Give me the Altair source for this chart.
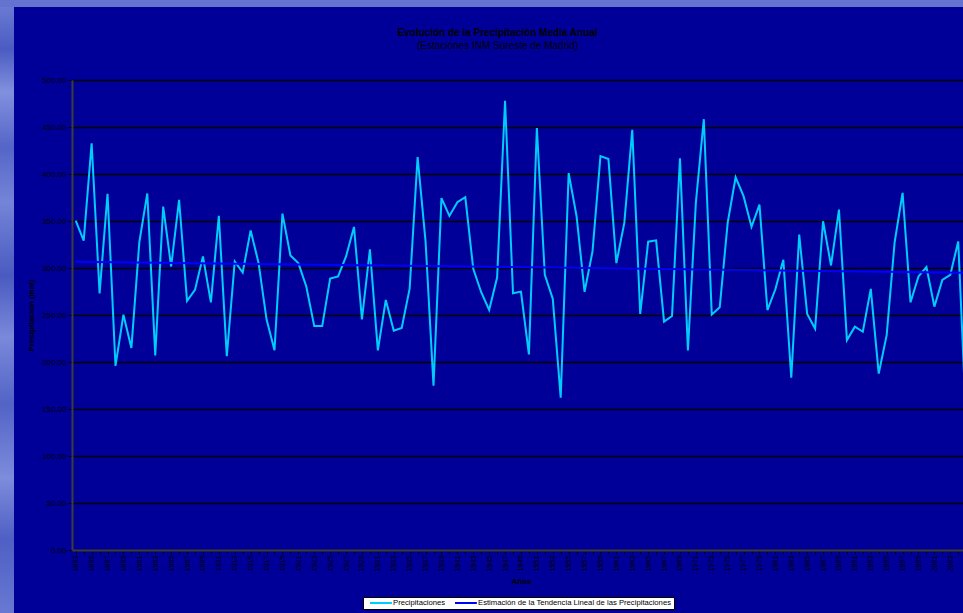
import altair as alt
import pandas as pd

# Annual mean precipitation (mm), INM stations south-east of Madrid
years = list(range(1893, 2006))
precip = [
    350.4, 329.0, 432.7, 273.0, 379.0, 195.8, 250.3, 215.0, 327.6, 379.3,  # 1893-1902
    207.0, 365.4, 301.6, 372.5, 265.0, 276.7, 312.3, 263.5, 355.4, 206.2,  # 1903-1912
    307.0, 295.2, 340.0, 305.2, 245.4, 212.6, 357.9, 313.4, 305.2, 280.3,  # 1913-1922
    238.2, 238.2, 288.8, 291.0, 312.3, 343.7, 245.4, 319.8, 212.3, 266.0,  # 1923-1932
    233.3, 236.1, 278.1, 418.1, 328.3, 174.9, 374.3, 355.4, 370.0, 375.3,  # 1933-1942
    299.1, 274.2, 255.3, 289.9, 477.9, 273.2, 274.9, 208.0, 449.0, 292.7,  # 1943-1952
    267.4, 162.0, 401.0, 355.0, 274.6, 317.7, 419.1, 416.0, 305.2, 348.0,  # 1953-1962
    446.9, 251.1, 328.0, 329.4, 242.9, 248.9, 416.7, 212.3, 369.7, 458.3,  # 1963-1972
    250.4, 258.2, 348.0, 396.4, 376.4, 343.7, 367.5, 255.3, 277.4, 308.8,  # 1973-1982
    183.4, 335.5, 251.1, 235.4, 349.7, 302.7, 362.2, 223.3, 237.5, 232.2,  # 1983-1992
    277.8, 187.7, 228.6, 327.3, 380.0, 263.5, 291.0, 301.0, 258.9, 287.4,  # 1993-2002
    292.7, 328.3, 135.0,                                                   # 2003-2005
]

# Linear trend estimate (end points)
trend_years = [1893, 2005]
trend_values = [306.6, 295.0]

series_names = [
    "Precipitaciones",
    "Estimación de la Tendencia Lineal de las Precipitaciones",
]
series_colors = ["#00CCFF", "#0000FF"]

y_ticks = list(range(0, 501, 50))
x_ticks = list(range(1893, 2005))

obs = pd.DataFrame({"year": years, "value": precip, "serie": series_names[0]})
trend = pd.DataFrame({"year": trend_years, "value": trend_values, "serie": series_names[1]})
df = pd.concat([obs, trend], ignore_index=True)

FONT = "Liberation Sans"
BG = "#000099"
PAD_LEFT, PAD_TOP = 72, 80
PLOT_W, PLOT_H = 891, 470

x_enc = alt.X(
    "year:Q",
    scale=alt.Scale(domain=[1892.53, 2004.6], nice=False, zero=False),
    axis=alt.Axis(
        title="Años",
        values=x_ticks,
        labelExpr="datum.value % 2 == 1 ? '' + datum.value : ''",
        labelAngle=270,
        labelAlign="right",
        labelBaseline="middle",
        labelOverlap=False,
        labelFlush=False,
        labelFontSize=7.3,
        labelPadding=1,
        titlePadding=6,
        titleX=449,
        grid=False,
    ),
)
y_enc = alt.Y(
    "value:Q",
    scale=alt.Scale(domain=[0, 500], nice=False),
    axis=alt.Axis(
        title="Precipitación (mm)",
        values=y_ticks,
        labelExpr="replace(format(datum.value, '.2f'), '.', ',')",
        labelFontSize=8,
        grid=True,
        gridColor="#000000",
        gridWidth=1.4,
        labelPadding=2,
        titlePadding=6,
    ),
)
color_enc = alt.Color(
    "serie:N",
    title=None,
    scale=alt.Scale(domain=series_names, range=series_colors),
    legend=alt.Legend(
        orient="none",
        legendX=363 - PAD_LEFT,
        legendY=597 - PAD_TOP,
        direction="horizontal",
        fillColor="#FFFFFF",
        strokeColor="#000000",
        padding=2,
        columnPadding=4,
        labelFont=FONT,
        labelFontSize=7.7,
        labelColor="#000000",
        labelLimit=400,
        labelOffset=20,
        symbolType="M0.33,0H7.63",
        symbolSize=36,
        symbolStrokeWidth=2,
    ),
)

base = alt.Chart(df)

obs_line = base.transform_filter(alt.datum.serie == series_names[0]).mark_line(
    strokeWidth=2, clip=True
).encode(x=x_enc, y=y_enc, color=color_enc)

trend_line = base.transform_filter(alt.datum.serie == series_names[1]).mark_line(
    strokeWidth=2, clip=True
).encode(x=x_enc, y=y_enc, color=color_enc)

# Slide background edges (left and top strips)
strip_fill = alt.Gradient(
    gradient="linear",
    x1=0, x2=0, y1=0, y2=1,
    stops=[
        alt.GradientStop(offset=0.00, color="#6f7fd6"),
        alt.GradientStop(offset=0.08, color="#4b5bc2"),
        alt.GradientStop(offset=0.15, color="#8190de"),
        alt.GradientStop(offset=0.24, color="#5565c8"),
        alt.GradientStop(offset=0.33, color="#7484d8"),
        alt.GradientStop(offset=0.45, color="#4a5ac0"),
        alt.GradientStop(offset=0.55, color="#7a89da"),
        alt.GradientStop(offset=0.66, color="#5363c6"),
        alt.GradientStop(offset=0.78, color="#7d8cdc"),
        alt.GradientStop(offset=0.88, color="#4f5fc4"),
        alt.GradientStop(offset=1.00, color="#6878d2"),
    ],
)
strip_data = pd.DataFrame({"k": [0]})
left_strip = alt.Chart(strip_data).mark_rect(fill=strip_fill).encode(
    x=alt.value(-PAD_LEFT), x2=alt.value(14 - PAD_LEFT),
    y=alt.value(-PAD_TOP), y2=alt.value(613 - PAD_TOP),
)
top_strip = alt.Chart(strip_data).mark_rect(color="#6373cf").encode(
    x=alt.value(-PAD_LEFT), x2=alt.value(PLOT_W),
    y=alt.value(-PAD_TOP), y2=alt.value(7 - PAD_TOP),
)

chart = alt.layer(left_strip, top_strip, obs_line, trend_line).properties(
    width=PLOT_W,
    height=PLOT_H,
    autosize=alt.AutoSizeParams(type="none"),
    padding={"left": PAD_LEFT, "top": PAD_TOP, "right": 0, "bottom": 613 - PAD_TOP - PLOT_H},
    background=BG,
    title=alt.Title(
        "Evolución de la Precipitación Media Anual",
        subtitle="(Estaciones INM Sureste de Madrid)",
        anchor="middle",
        dx=-20,
        dy=51,
        offset=0,
        font=FONT,
        fontSize=10,
        fontWeight="bold",
        color="#000000",
        subtitleFont=FONT,
        subtitleFontSize=10,
        subtitleColor="#000000",
        subtitlePadding=3,
    ),
).configure_view(
    fill=BG, stroke="#6e6e6e", strokeWidth=1
).configure_axis(
    labelFont=FONT,
    labelColor="#000000",
    titleFont=FONT,
    titleFontSize=8,
    titleFontWeight="bold",
    titleColor="#000000",
    tickColor="#000000",
    tickSize=4,
    domainColor="#3c3c3c",
    domainWidth=2,
)

chart.save("out.html", embed_options={"renderer": "svg", "actions": False})
